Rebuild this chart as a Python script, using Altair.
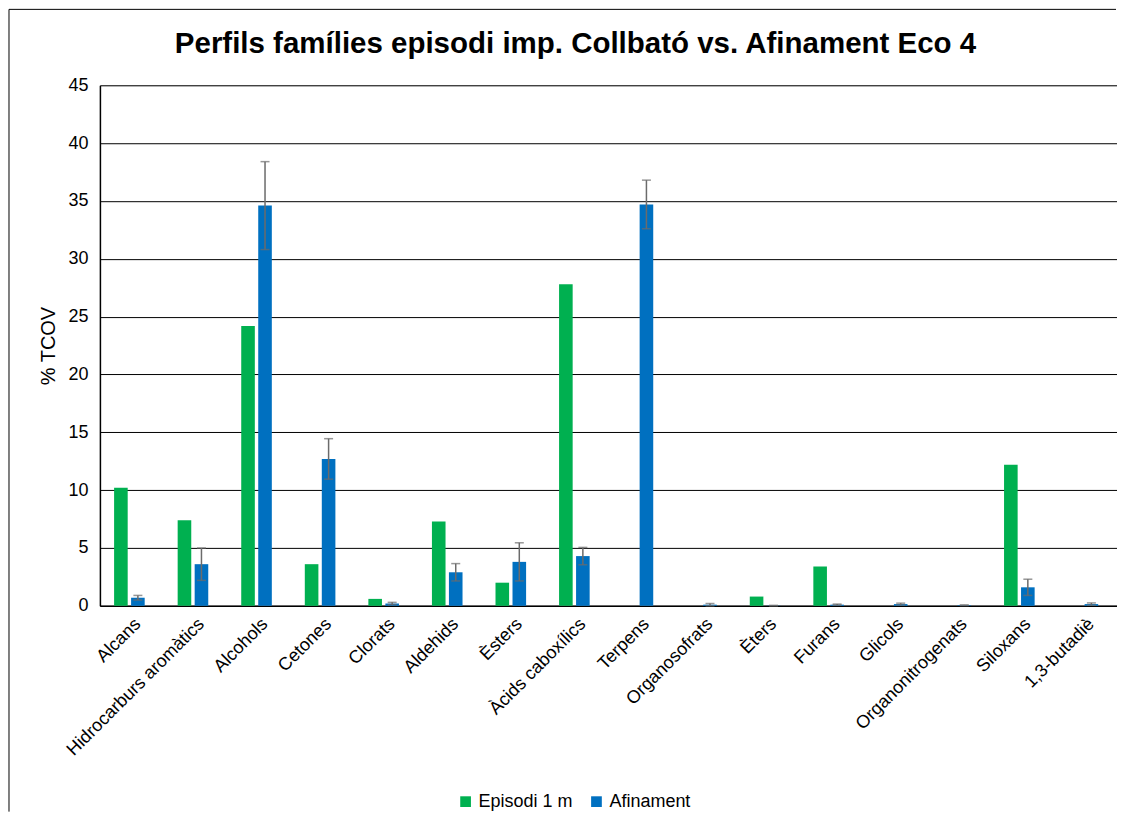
import altair as alt
import pandas as pd

categories = ["Alcans", "Hidrocarburs aromàtics", "Alcohols", "Cetones", "Clorats",
              "Aldehids", "Èsters", "Àcids caboxílics", "Terpens", "Organosofrats",
              "Èters", "Furans", "Glicols", "Organonitrogenats", "Siloxans", "1,3-butadiè"]
episodi = [10.2, 7.4, 24.2, 3.6, 0.6, 7.3, 2.0, 27.8, 0, 0, 0.8, 3.4, 0, 0, 12.2, 0]
afinament = [0.7, 3.6, 34.6, 12.7, 0.2, 2.9, 3.8, 4.3, 34.7, 0.1, 0.02, 0.1, 0.15, 0.05, 1.6, 0.15]
afinament_err = [0.2, 1.4, 3.8, 1.75, 0.1, 0.75, 1.65, 0.75, 2.1, 0.1, 0.02, 0.05, 0.08, 0.03, 0.7, 0.1]
series = ["Episodi 1 m", "Afinament"]
colors = ["#00B050", "#0070C0"]
title_text = ["Perfils famílies episodi imp. Collbató vs. Afinament Eco 4"]

rows = []
for i, c in enumerate(categories):
    rows.append({"cat": c, "serie": series[0], "val": episodi[i], "lo": None, "hi": None})
    rows.append({"cat": c, "serie": series[1], "val": afinament[i],
                 "lo": afinament[i] - afinament_err[i], "hi": afinament[i] + afinament_err[i]})
df = pd.DataFrame(rows)
err_df = df[df["serie"] == series[1]].copy()

W, H = 1018, 521
FONT = "Liberation Sans"

x = alt.X("cat:N", sort=categories,
          scale=alt.Scale(paddingInner=0, paddingOuter=0),
          axis=alt.Axis(title=None, labelAngle=-45, labelFontSize=18, labelColor="#000",
                        labelPadding=9, ticks=False, domainColor="#000", domainWidth=1.5,
                        labelFont=FONT, labelLimit=300))
xo = alt.XOffset("serie:N", sort=series,
                 scale=alt.Scale(domain=series, paddingInner=0.2, paddingOuter=0.97, align=0.43))

bars = alt.Chart(df).mark_bar().encode(
    x=x,
    xOffset=xo,
    y=alt.Y("val:Q", scale=alt.Scale(domain=[0, 45], nice=False),
            axis=alt.Axis(title="% TCOV", values=list(range(0, 50, 5)), labelFontSize=18,
                          labelColor="#000", ticks=False, labelPadding=12,
                          gridColor="#000", gridWidth=1, domainColor="#000", domainWidth=1.5,
                          titleFontSize=20, titleFontWeight="normal", titleColor="#000",
                          titlePadding=9, labelFont=FONT, titleFont=FONT)),
    color=alt.Color("serie:N", sort=series,
                    scale=alt.Scale(domain=series, range=colors),
                    legend=alt.Legend(title=None, orient="none", direction="horizontal",
                                      legendX=357, legendY=708, symbolType="square",
                                      symbolSize=115, labelFontSize=18, labelColor="#000",
                                      labelFont=FONT, columnPadding=14, symbolStrokeWidth=0,
                                      labelOffset=4)),
)

err_rule = alt.Chart(err_df).mark_rule(color="#6b6b6b", strokeWidth=1.5).encode(
    x=alt.X("cat:N", sort=categories), xOffset=xo,
    y="lo:Q", y2="hi:Q")
err_top = alt.Chart(err_df).mark_tick(color="#6b6b6b", size=9, thickness=1.5,
                                      orient="horizontal").encode(
    x=alt.X("cat:N", sort=categories), xOffset=xo, y="hi:Q")
err_bot = alt.Chart(err_df).mark_tick(color="#6b6b6b", size=9, thickness=1.5,
                                      orient="horizontal").encode(
    x=alt.X("cat:N", sort=categories), xOffset=xo, y="lo:Q")

one = alt.Data(values=[{"a": 1}])
border_top = alt.Chart(one).mark_rule(color="#000", strokeWidth=1).encode(
    x=alt.value(-91), x2=alt.value(1017), y=alt.value(-76))
border_left = alt.Chart(one).mark_rule(color="#000", strokeWidth=1).encode(
    x=alt.value(-91), y=alt.value(-76), y2=alt.value(727))

title = alt.Chart(alt.Data(values=[{"t": t} for t in title_text])).mark_text(
    font=FONT, fontSize=29.5, fontWeight="bold", color="#000", align="center",
    baseline="alphabetic").encode(
    text="t:N", x=alt.value(476), y=alt.value(-32))

chart = alt.layer(bars, err_rule, err_top, err_bot, border_top, border_left, title).properties(
    width=W, height=H,
    padding=0,
).configure_view(stroke="#000", strokeWidth=1.5).configure(background="white")

chart.save("out.html", embed_options={"renderer": "svg", "actions": False})
